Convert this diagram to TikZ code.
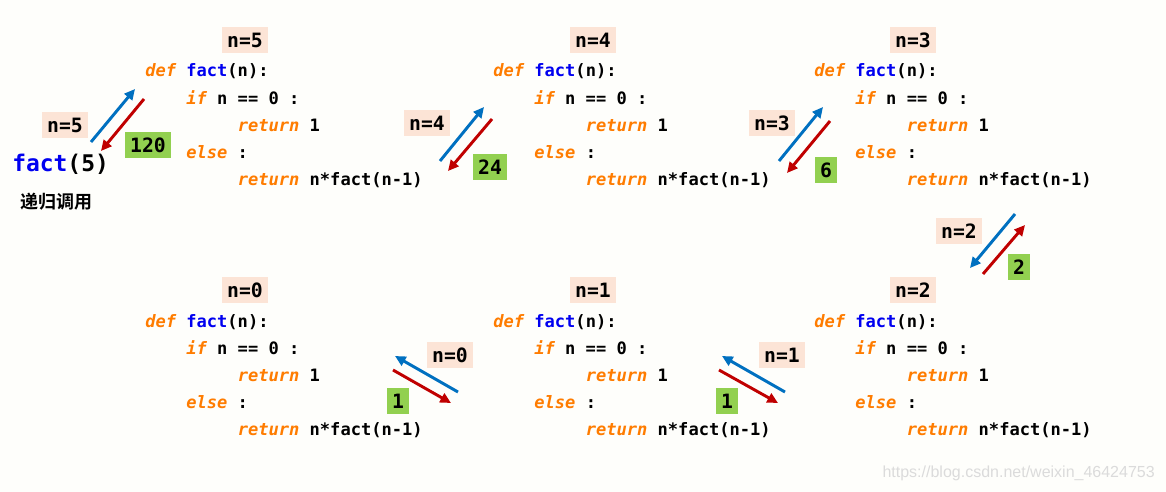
\documentclass[tikz,border=0pt]{standalone}
\usepackage{fontspec}
\usetikzlibrary{arrows.meta}
\newfontfamily\codefont{DejaVu Sans Mono}[BoldFont={* Bold},ItalicFont={* Oblique},BoldItalicFont={* Bold Oblique}]
\newfontfamily\cjkfont{Noto Sans CJK SC}[BoldFont={* Bold}]
\newfontfamily\urlfont{Liberation Sans}
\definecolor{kwc}{HTML}{FF7C00}
\definecolor{fnc}{HTML}{0000F0}
\definecolor{peach}{HTML}{FCE4D6}
\definecolor{grn}{HTML}{92D050}
\definecolor{arrblue}{HTML}{0070C0}
\definecolor{arrred}{HTML}{C00000}
\definecolor{bgc}{HTML}{FEFEFB}
\newcommand\kw[1]{\textcolor{kwc}{\itshape #1}}
\newcommand\fnm[1]{\textcolor{fnc}{#1}}
\tikzset{
  code/.style={anchor=base west,inner sep=0pt,font=\codefont\bfseries\fontsize{12.8}{14}\selectfont},
  lab/.style={fill=peach,inner xsep=4pt,inner ysep=0pt,minimum height=19pt,font=\codefont\bfseries\fontsize{14.8}{16}\selectfont},
  res/.style={lab,fill=grn},
  callarr/.style={draw=arrblue,line width=2.2pt,-{Triangle[length=8pt,width=7.5pt]}},
  retarr/.style={draw=arrred,line width=2.2pt,-{Triangle[length=8pt,width=7.5pt]}},
}
\newcommand\codeblk[3]{%
  \node[code] (#1a) at (#2,#3) {\kw{def} \fnm{fact}(n):};
  \node[code] (#1b) at (#2+41.1,#3+27.2) {\kw{if} n == 0 :};
  \node[code] (#1c) at (#2+92.5,#3+54.4) {\kw{return} 1};
  \node[code] (#1d) at (#2+41.1,#3+81.6) {\kw{else} :};
  \node[code] (#1e) at (#2+92.5,#3+108.8) {\kw{return} n*fact(n-1)};
}
\begin{document}
\begin{tikzpicture}[x=0.75pt,y=-0.75pt]
\fill[bgc] (0,0) rectangle (1166,492);
\useasboundingbox (0,0) rectangle (1166,492);

% code blocks
\codeblk{B5}{145}{77}
\codeblk{B4}{493}{77}
\codeblk{B3}{814}{77}
\codeblk{B0}{145}{327}
\codeblk{B1}{493}{327}
\codeblk{B2}{814}{327}

% block labels
\node[lab] (L5) at (245,40) {n=5};
\node[lab] (L4) at (593,40) {n=4};
\node[lab] (L3) at (913,40) {n=3};
\node[lab] (L0) at (245,290) {n=0};
\node[lab] (L1) at (593,290) {n=1};
\node[lab] (L2) at (913,290) {n=2};

% initial call
\node[anchor=base west,inner sep=0pt,font=\codefont\bfseries\fontsize{17.2}{19}\selectfont] (call) at (12,171) {\fnm{fact}(5)};
\node[inner sep=0pt,font=\cjkfont\bfseries\fontsize{13.5}{15}\selectfont] (rec) at (56,202) {递归调用};

% arrow labels
\node[lab] (a5n) at (65,125) {n=5};
\node[res] (a5r) at (148,145) {120};
\node[lab] (a4n) at (427,123) {n=4};
\node[res] (a4r) at (490,167) {24};
\node[lab] (a3n) at (772,123) {n=3};
\node[res] (a3r) at (826,170) {6};
\node[lab] (a2n) at (959,231) {n=2};
\node[res] (a2r) at (1019,267) {2};
\node[lab] (a0n) at (450,355) {n=0};
\node[res] (a0r) at (398,401) {1};
\node[lab] (a1n) at (782,355) {n=1};
\node[res] (a1r) at (727,401) {1};

% arrow end points
\coordinate (c5s) at (91,142);  \coordinate (c5e) at (135,89);
\coordinate (r5s) at (144,99);  \coordinate (r5e) at (101,151);
\coordinate (c4s) at (440,161); \coordinate (c4e) at (484,107);
\coordinate (r4s) at (492,119); \coordinate (r4e) at (448,171);
\coordinate (c3s) at (779,161); \coordinate (c3e) at (823,107);
\coordinate (r3s) at (830,121); \coordinate (r3e) at (787,173);
\coordinate (c2s) at (1015,214); \coordinate (c2e) at (970,268);
\coordinate (r2s) at (983,274); \coordinate (r2e) at (1025,225);
\coordinate (c0s) at (458,392); \coordinate (c0e) at (395,356);
\coordinate (r0s) at (393,370); \coordinate (r0e) at (451,403);
\coordinate (c1s) at (785,392); \coordinate (c1e) at (722,356);
\coordinate (r1s) at (719,370); \coordinate (r1e) at (778,403);

\draw[callarr] (c5s) -- (c5e);
\draw[retarr] (r5s) -- (r5e);
\draw[callarr] (c4s) -- (c4e);
\draw[retarr] (r4s) -- (r4e);
\draw[callarr] (c3s) -- (c3e);
\draw[retarr] (r3s) -- (r3e);
\draw[callarr] (c2s) -- (c2e);
\draw[retarr] (r2s) -- (r2e);
\draw[callarr] (c0s) -- (c0e);
\draw[retarr] (r0s) -- (r0e);
\draw[callarr] (c1s) -- (c1e);
\draw[retarr] (r1s) -- (r1e);

% url
\node[anchor=east,inner sep=0pt,text=black!14,font=\urlfont\fontsize{12}{14}\selectfont] (url) at (1155,473) {https://blog.csdn.net/weixin\_46424753};
\end{tikzpicture}
\end{document}
